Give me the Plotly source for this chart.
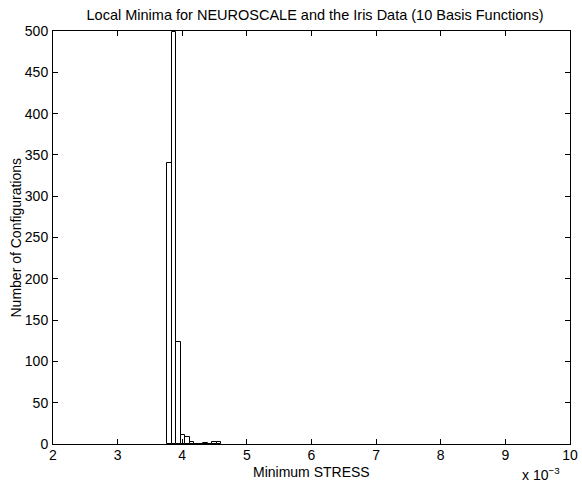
import plotly.graph_objects as go

# Histogram of minimum STRESS values (bin centres in units of 1e-3)
bin_centres = [3.80, 3.87, 3.94, 4.01, 4.08, 4.15, 4.22, 4.29, 4.36, 4.43, 4.50, 4.57]
counts = [340, 499, 124, 11, 9, 3, 0, 0, 1, 0, 2, 2]
bin_width = 0.07

x_ticks = [2, 3, 4, 5, 6, 7, 8, 9, 10]
y_ticks = [0, 50, 100, 150, 200, 250, 300, 350, 400, 450, 500]

font = dict(family="Liberation Sans, Arial, sans-serif", size=14, color="black")

fig = go.Figure()
fig.add_trace(go.Bar(
    x=bin_centres,
    y=counts,
    width=bin_width,
    marker=dict(color="white", line=dict(color="black", width=1)),
    hoverinfo="x+y",
))

axis_common = dict(
    showgrid=False,
    zeroline=False,
    showline=True,
    linecolor="black",
    linewidth=1,
    mirror="ticks",
    ticks="inside",
    ticklen=5,
    tickcolor="black",
    tickfont=font,
)

fig.update_xaxes(range=[2, 10], tickvals=x_ticks, ticktext=[str(v) for v in x_ticks],
                 ticklabelstandoff=-2, ticklabeloverflow="allow", **axis_common)
fig.update_yaxes(range=[0, 500], tickvals=y_ticks, ticklabelstandoff=1, **axis_common)

fig.update_layout(
    width=582,
    height=484,
    margin=dict(l=53, r=4, t=31, b=40),
    paper_bgcolor="white",
    plot_bgcolor="white",
    showlegend=False,
    font=font,
    bargap=0,
    title=dict(
        text="Local Minima for NEUROSCALE and the Iris Data (10 Basis Functions)",
        x=315 / 582, xref="container", xanchor="center",
        y=1 - 15 / 484, yref="container", yanchor="middle",
        font=dict(family=font["family"], size=14.5, color="black"),
    ),
    annotations=[
        dict(text="Minimum STRESS", xref="paper", yref="paper", x=0.5, y=-28 / 413,
             xanchor="center", yanchor="middle", showarrow=False, font=font),
        dict(text="Number of Configurations", xref="paper", yref="paper",
             x=0, y=0.5, xshift=-38, textangle=-90, xanchor="center", yanchor="middle",
             showarrow=False, font=font),
        dict(text="x 10<sup>−3</sup>", xref="paper", yref="paper", x=(570 - 53) / 525,
             y=-30 / 413, xanchor="right", yanchor="middle", showarrow=False, font=font),
    ],
)

fig.write_html("out.html")
